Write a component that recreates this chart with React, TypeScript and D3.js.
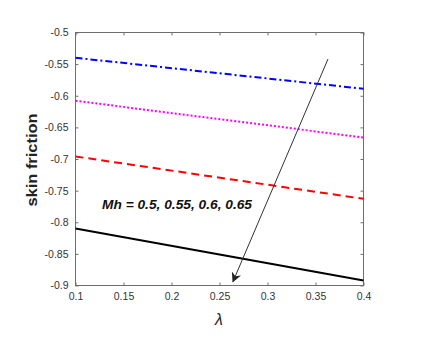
import React, { useEffect, useRef } from "react";
import * as d3 from "d3";

// lambda values where the curves were read
const lambdaVals = [0.1, 0.4];
// skin friction for Mh = 0.5, 0.55, 0.6, 0.65
const mh050 = [-0.54, -0.589];
const mh055 = [-0.608, -0.666];
const mh060 = [-0.696, -0.763];
const mh065 = [-0.81, -0.892];
const xTicks = [0.1, 0.15, 0.2, 0.25, 0.3, 0.35, 0.4];
const yTicks = [-0.5, -0.55, -0.6, -0.65, -0.7, -0.75, -0.8, -0.85, -0.9];
// arrow drawn across the curves (data coords)
const arrowFrom = [0.363, -0.542];
const arrowTo = [0.264, -0.894];

function App() {
  const svgRef = useRef(null);

  useEffect(() => {
    const svg = d3.select(svgRef.current);
    svg.selectAll("*").remove();

    const left = 75.5;
    const right = 363.5;
    const top = 32.5;
    const bottom = 285.5;

    const xScale = d3.scaleLinear().domain([0.1, 0.4]).range([left, right]);
    const yScale = d3.scaleLinear().domain([-0.9, -0.5]).range([bottom, top]);

    svg.append("rect")
      .attr("width", 427)
      .attr("height", 348)
      .attr("fill", "white");

    const font = "Liberation Sans, Arial, sans-serif";
    const axisColor = "#6e6e6e";

    // bottom axis
    const gx = svg.append("g")
      .attr("transform", `translate(0, ${bottom})`)
      .call(d3.axisBottom(xScale).tickValues(xTicks).tickSize(-3).tickPadding(7)
        .tickFormat((d) => String(+d)));
    gx.select(".domain").remove();
    gx.selectAll("line").attr("stroke", axisColor);
    gx.selectAll("text").attr("font-family", font).attr("font-size", 10.5).attr("fill", "#333");

    // top ticks
    const gt = svg.append("g")
      .attr("transform", `translate(0, ${top})`)
      .call(d3.axisTop(xScale).tickValues(xTicks).tickSize(-3).tickFormat(() => ""));
    gt.select(".domain").remove();
    gt.selectAll("line").attr("stroke", axisColor);

    // left axis
    const gy = svg.append("g")
      .attr("transform", `translate(${left}, 0)`)
      .call(d3.axisLeft(yScale).tickValues(yTicks).tickSize(-3).tickPadding(7)
        .tickFormat((d) => String(+d)));
    gy.select(".domain").remove();
    gy.selectAll("line").attr("stroke", axisColor);
    gy.selectAll("text").attr("font-family", font).attr("font-size", 10.5).attr("fill", "#333");

    // right ticks
    const gr = svg.append("g")
      .attr("transform", `translate(${right}, 0)`)
      .call(d3.axisRight(yScale).tickValues(yTicks).tickSize(-3).tickFormat(() => ""));
    gr.select(".domain").remove();
    gr.selectAll("line").attr("stroke", axisColor);

    // box
    svg.append("rect")
      .attr("x", left)
      .attr("y", top)
      .attr("width", right - left)
      .attr("height", bottom - top)
      .attr("fill", "none")
      .attr("stroke", axisColor)
      .attr("stroke-width", 1);

    const series = [
      { vals: mh050, color: "#0000ff", dash: "7,3,2,3" },
      { vals: mh055, color: "#ff00ff", dash: "2,2" },
      { vals: mh060, color: "#ff0000", dash: "8,5" },
      { vals: mh065, color: "#000000", dash: null },
    ];

    const line = d3.line()
      .x((d) => xScale(d[0]))
      .y((d) => yScale(d[1]));

    series.forEach((s) => {
      const pts = lambdaVals.map((x, i) => [x, s.vals[i]]);
      svg.append("path")
        .datum(pts)
        .attr("d", line)
        .attr("fill", "none")
        .attr("stroke", s.color)
        .attr("stroke-width", 2)
        .attr("stroke-dasharray", s.dash);
    });

    // arrow
    svg.append("defs").append("marker")
      .attr("id", "arrowhead")
      .attr("viewBox", "0 0 10 10")
      .attr("refX", 9)
      .attr("refY", 5)
      .attr("markerWidth", 10)
      .attr("markerHeight", 10)
      .attr("markerUnits", "userSpaceOnUse")
      .attr("orient", "auto")
      .append("path")
      .attr("d", "M0,0 L10,5 L0,10 L3,5 Z")
      .attr("fill", "#222");

    svg.append("line")
      .attr("x1", xScale(arrowFrom[0]))
      .attr("y1", yScale(arrowFrom[1]))
      .attr("x2", xScale(arrowTo[0]))
      .attr("y2", yScale(arrowTo[1]))
      .attr("stroke", "#333")
      .attr("stroke-width", 1)
      .attr("marker-end", "url(#arrowhead)");

    // annotation
    svg.append("text")
      .attr("x", 102)
      .attr("y", 208.5)
      .attr("font-family", font)
      .attr("font-size", 12.5)
      .attr("font-weight", "bold")
      .attr("font-style", "italic")
      .attr("fill", "#111")
      .attr("textLength", 150)
      .attr("lengthAdjust", "spacingAndGlyphs")
      .text("Mh = 0.5, 0.55, 0.6, 0.65");

    // axis labels
    svg.append("text")
      .attr("transform", "translate(37, 160) rotate(-90)")
      .attr("text-anchor", "middle")
      .attr("font-family", font)
      .attr("font-size", 15.5)
      .attr("font-weight", "bold")
      .attr("fill", "#222")
      .attr("textLength", 93)
      .attr("lengthAdjust", "spacingAndGlyphs")
      .text("skin friction");

    svg.append("text")
      .attr("x", 219)
      .attr("y", 325)
      .attr("text-anchor", "middle")
      .attr("font-family", font)
      .attr("font-size", 16)
      .attr("font-style", "italic")
      .attr("fill", "#222")
      .text("λ");
  }, []);

  return (
    <div style={{ position: "absolute", left: 0, top: 0 }}>
      <svg ref={svgRef} width={427} height={348}></svg>
    </div>
  );
}

export default App;
